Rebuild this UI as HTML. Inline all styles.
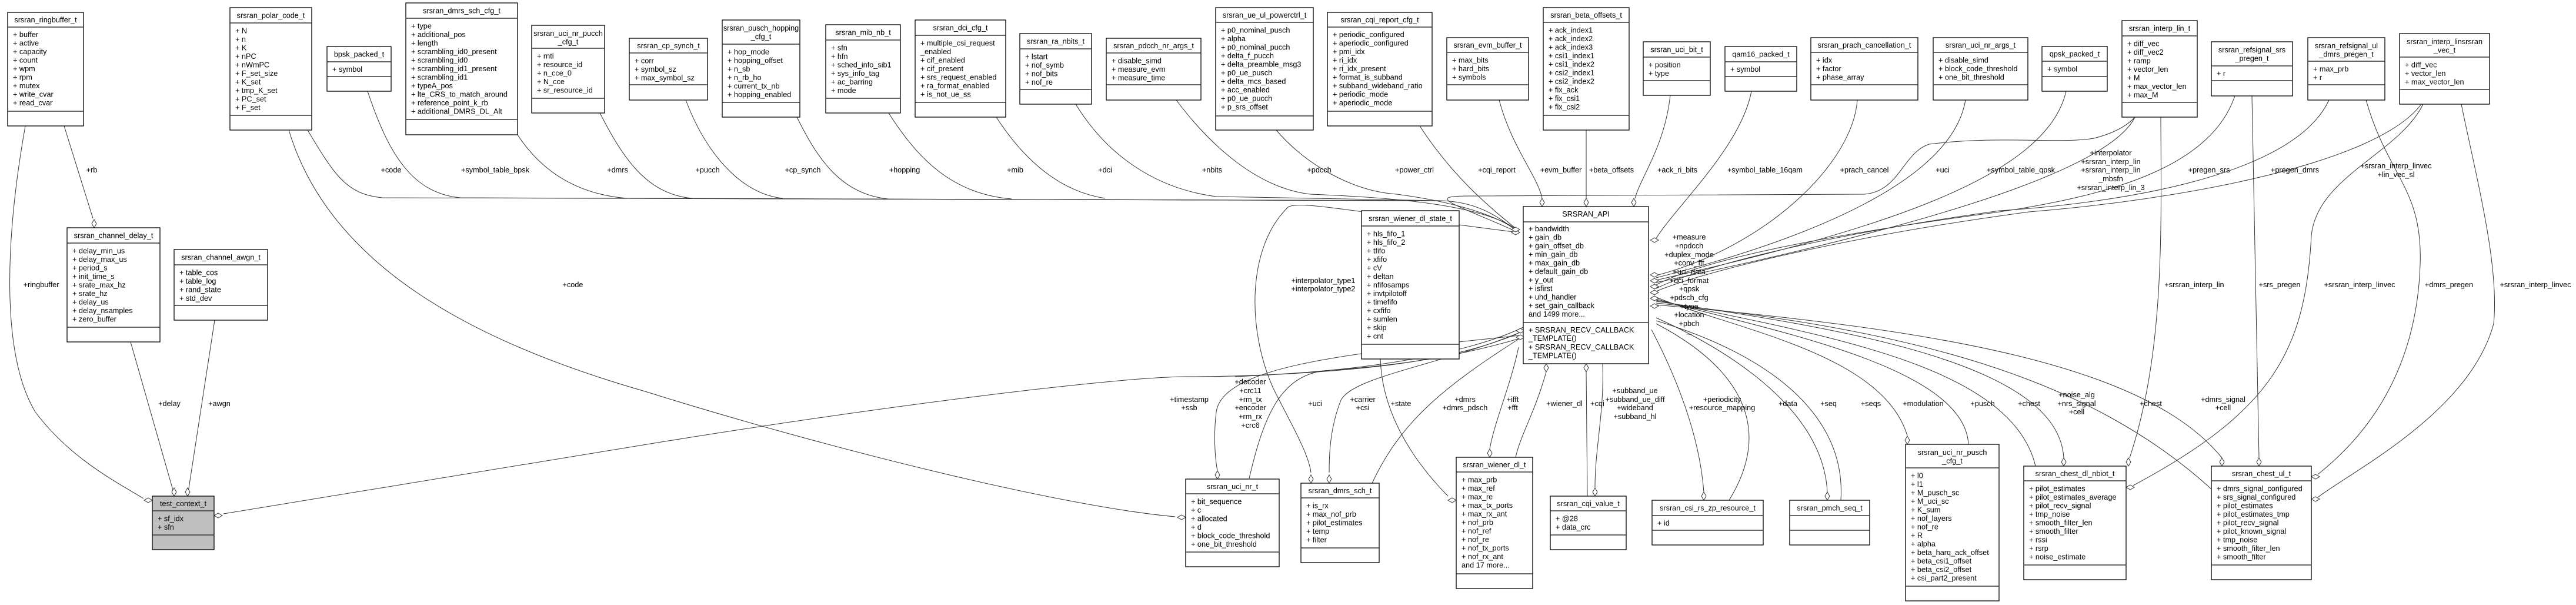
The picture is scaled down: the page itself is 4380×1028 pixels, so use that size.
<!DOCTYPE html>
<html><head><meta charset="utf-8"><style>
html,body{margin:0;padding:0;background:#fff}
svg{display:block}
text{font-family:"Liberation Sans",sans-serif;font-size:12.7px;fill:#000}
.b{fill:#fff;stroke:#000;stroke-width:1.3}
.g{fill:#bfbfbf;stroke:#000;stroke-width:1.3}
.s{stroke:#333;stroke-width:1.6}
.e{fill:none;stroke:#333;stroke-width:1}
.d{fill:#fff;stroke:#333;stroke-width:1}
.m{text-anchor:middle}
</style></head><body>
<svg width="4380" height="1028" viewBox="0 0 4380 1028" xmlns="http://www.w3.org/2000/svg">
<!-- EDGES -->
<g class="e">
<path d="M523,221 C570,300 590,330 650,336 L2450,341 C2520,343 2555,375 2582,395"/>
<path d="M625,155 C660,260 700,328 782,336 L2450,341"/>
<path d="M880,229 C920,290 980,330 1066,337 L2450,341"/>
<path d="M1020,192 C1060,270 1100,330 1177,337"/>
<path d="M1166,170 C1200,260 1260,330 1331,337"/>
<path d="M1355,199 C1390,270 1430,330 1510,338"/>
<path d="M1511,192 C1560,270 1620,330 1720,338"/>
<path d="M1694,199 C1740,270 1800,325 1879,337"/>
<path d="M1829,177 C1880,260 1960,320 2068,334 L2450,341"/>
<path d="M2000,170 C2060,250 2140,320 2228,330 C2350,335 2520,345 2582,392"/>
<path d="M2170,221 C2220,280 2300,325 2375,330 C2450,340 2540,360 2582,394"/>
<path d="M2414,214 C2470,300 2530,350 2582,392"/>
<path d="M2549,170 C2570,250 2615,300 2622,337"/>
<path d="M2697,221 L2697,337"/>
<path d="M2840,162 C2830,250 2790,300 2780,337"/>
<path d="M2978,155 C2960,250 2850,350 2816,405"/>
<path d="M2582,395 C2470,345 2420,333 2500,333 L3170,330 C3230,325 3235,260 3280,245 C3400,230 3500,245 3560,235 C3600,225 3620,210 3630,199"/>
<path d="M3158,170 C3150,280 3000,420 2816,468"/>
<path d="M3342,170 C3320,300 3100,400 2816,472"/>
<path d="M3513,155 C3480,300 3200,390 2816,476"/>
<path d="M3630,199 C3580,300 3200,400 2816,480"/>
<path d="M3800,163 C3760,280 3600,330 3400,360 C3100,400 2900,440 2816,484"/>
<path d="M3960,170 C3900,300 3600,345 3400,358 C3100,400 2900,450 2816,490"/>
<path d="M4117,177 C4040,280 3700,340 3450,360 C3150,400 2900,460 2816,495"/>
<path d="M2816,505 C2950,560 3200,600 3243,740"/>
<path d="M2816,508 C3000,560 3340,620 3347,755"/>
<path d="M2816,510 C3100,570 3420,620 3461,792"/>
<path d="M2816,512 C3150,560 3500,620 3509,778"/>
<path d="M2816,515 C3250,560 3550,640 3760,831"/>
<path d="M2816,518 C3300,560 3650,620 3778,778"/>
<path d="M2816,540 C2950,600 3100,700 3107,836"/>
<path d="M2816,545 C3000,600 3140,700 3130,850"/>
<path d="M2808,560 C2850,640 2890,740 2897,836"/>
<path d="M2816,550 C2950,620 3020,720 2940,850"/>
<path d="M2725,618 C2728,700 2712,760 2712,828"/>
<path d="M2697,632 L2699,843"/>
<path d="M2629,632 C2610,700 2585,740 2577,777"/>
<path d="M2582,590 C2570,650 2540,720 2533,763"/>
<path d="M2582,395 C2300,360 2210,340 2190,352 C2120,420 2120,560 2165,660 C2195,720 2225,770 2229,803"/>
<path d="M2584,565 C2450,620 2300,640 2280,680 C2260,730 2260,780 2260,803"/>
<path d="M2333,821 C2380,720 2450,660 2584,575"/>
<path d="M2347,610 C2350,700 2400,780 2462,843"/>
<path d="M2100,640 C2300,630 2450,620 2578,568"/>
<path d="M2584,570 C2300,600 2080,620 2068,700 C2062,750 2068,790 2070,800"/>
<path d="M2124,813 C2150,700 2180,640 2250,630 C2400,620 2500,600 2584,575"/>
<path d="M380,873 L1100,755 C1500,690 1900,640 2020,640 C2300,640 2500,600 2590,556"/>
<path d="M491,221 C560,450 800,580 1100,666 C1400,760 1800,860 1998,878"/>
<path d="M43,214 C10,400 0,600 60,700 C120,780 200,820 244,847"/>
<path d="M109,214 L158,371"/>
<path d="M222,581 L295,836"/>
<path d="M365,544 L320,836"/>
<path d="M3674,199 C3675,400 3680,600 3621,778"/>
<path d="M3829,163 L3841,778"/>
<path d="M4120,177 C4080,260 3940,300 3930,400 C3920,600 3860,700 3627,825"/>
<path d="M4023,170 C4060,300 4120,320 4115,450 C4110,600 4050,720 3941,806"/>
<path d="M4185,177 C4210,300 4250,450 4240,550 C4200,700 4000,800 3941,845"/>
</g>
<!-- DIAMONDS -->
<g class="d">
<path d="M2622,351 l-4,-7 l4,-7 l4,7z"/>
<path d="M2697,351 l-4,-7 l4,-7 l4,7z"/>
<path d="M2778,351 l-4,-7 l4,-7 l4,7z"/>
<path d="M2584,395 l-7,-4 l-7,4 l7,4z"/>
<path d="M2584,390 l-7,-4 l-7,4 l7,4z"/>
<path d="M2806,408 l7,-4 l7,4 l-7,4z"/>
<path d="M2806,467 l7,-4 l7,4 l-7,4z"/>
<path d="M2806,477 l7,-4 l7,4 l-7,4z"/>
<path d="M2806,487 l7,-4 l7,4 l-7,4z"/>
<path d="M2806,497 l7,-4 l7,4 l-7,4z"/>
<path d="M2806,507 l7,-4 l7,4 l-7,4z"/>
<path d="M2806,520 l7,-4 l7,4 l-7,4z"/>
<path d="M2592,562 l-7,-4 l-7,4 l7,4z"/>
<path d="M2592,573 l-7,-4 l-7,4 l7,4z"/>
<path d="M2629,618 l-4,7 l4,7 l4,-7z"/>
<path d="M2697,618 l-4,7 l4,7 l4,-7z"/>
<path d="M160,387 l-4,-7 l4,-7 l4,7z"/>
<path d="M296,843 l-4,-7 l4,-7 l4,7z"/>
<path d="M319,843 l-4,-7 l4,-7 l4,7z"/>
<path d="M259,850 l-7,-4 l-7,4 l7,4z"/>
<path d="M364,876 l7,-4 l7,4 l-7,4z"/>
<path d="M2016,879 l-7,-4 l-7,4 l7,4z"/>
<path d="M2070,814 l-4,-7 l4,-7 l4,7z"/>
<path d="M2229,821 l-4,-7 l4,-7 l4,7z"/>
<path d="M2260,821 l-4,-7 l4,-7 l4,7z"/>
<path d="M2476,850 l-7,-4 l-7,4 l7,4z"/>
<path d="M2533,777 l-4,-7 l4,-7 l4,7z"/>
<path d="M2712,843 l-4,-7 l4,-7 l4,7z"/>
<path d="M2897,850 l-4,-7 l4,-7 l4,7z"/>
<path d="M3107,850 l-4,-7 l4,-7 l4,7z"/>
<path d="M3243,755 l-4,-7 l4,-7 l4,7z"/>
<path d="M3509,792 l-4,-7 l4,-7 l4,7z"/>
<path d="M3778,792 l-4,-7 l4,-7 l4,7z"/>
<path d="M3841,792 l-4,-7 l4,-7 l4,7z"/>
<path d="M3615,785 l4,-7 l4,7 l-4,7z"/>
<path d="M3615,828 l7,-4 l7,4 l-7,4z"/>
<path d="M3930,810 l7,-4 l7,4 l-7,4z"/>
<path d="M3930,848 l7,-4 l7,4 l-7,4z"/>
</g>
<!-- EDGE LABELS -->
<g class="m">
<text x="156" y="293">+rb</text><text x="665" y="293">+code</text><text x="842" y="293">+symbol_table_bpsk</text>
<text x="1050" y="293">+dmrs</text><text x="1203" y="293">+pucch</text><text x="1365" y="293">+cp_synch</text>
<text x="1538" y="293">+hopping</text><text x="1726" y="293">+mib</text><text x="1879" y="293">+dci</text>
<text x="2061" y="293">+nbits</text><text x="2243" y="293">+pdcch</text><text x="2405" y="293">+power_ctrl</text>
<text x="2545" y="293">+cqi_report</text><text x="2654" y="293">+evm_buffer</text><text x="2740" y="293">+beta_offsets</text>
<text x="2852" y="293">+ack_ri_bits</text><text x="3001" y="293">+symbol_table_16qam</text><text x="3170" y="293">+prach_cancel</text>
<text x="3303" y="293">+uci</text><text x="3436" y="293">+symbol_table_qpsk</text>
<text x="3589" y="264">+interpolator</text><text x="3589" y="279">+srsran_interp_lin</text><text x="3589" y="293">+srsran_interp_lin</text><text x="3589" y="308">_mbsfn</text><text x="3589" y="323">+srsran_interp_lin_3</text>
<text x="3756" y="293">+pregen_srs</text><text x="3902" y="293">+pregen_dmrs</text>
<text x="4074" y="286">+srsran_interp_linvec</text><text x="4074" y="301">+lin_vec_sl</text>
<text x="70" y="488">+ringbuffer</text><text x="974" y="488">+code</text>
<text x="2250" y="481">+interpolator_type1</text><text x="2250" y="495">+interpolator_type2</text>
<text x="3731" y="488">+srsran_interp_lin</text><text x="3876" y="488">+srs_pregen</text><text x="4012" y="488">+srsran_interp_linvec</text>
<text x="4164" y="488">+dmrs_pregen</text><text x="4311" y="488">+srsran_interp_linvec</text>
<text x="2872" y="407">+measure</text><text x="2872" y="422">+npdcch</text><text x="2872" y="437">+duplex_mode</text>
<text x="2872" y="451">+conv_fft</text><text x="2872" y="466">+uci_data</text><text x="2872" y="481">+dci_format</text>
<text x="2872" y="495">+qpsk</text><text x="2872" y="510">+pdsch_cfg</text><text x="2872" y="525">+type</text>
<text x="2872" y="539">+location</text><text x="2872" y="554">+pbch</text><text x="2872" y="569">...</text>
<text x="288" y="690">+delay</text><text x="373" y="690">+awgn</text>
<text x="2022" y="683">+timestamp</text><text x="2022" y="697">+ssb</text>
<text x="2126" y="653">+decoder</text><text x="2126" y="668">+crc11</text><text x="2126" y="683">+rm_tx</text><text x="2126" y="697">+encoder</text><text x="2126" y="712">+rm_rx</text><text x="2126" y="727">+crc6</text>
<text x="2236" y="690">+uci</text><text x="2317" y="683">+carrier</text><text x="2317" y="697">+csi</text>
<text x="2382" y="690">+state</text><text x="2491" y="683">+dmrs</text><text x="2491" y="697">+dmrs_pdsch</text>
<text x="2572" y="683">+ifft</text><text x="2572" y="697">+fft</text><text x="2660" y="690">+wiener_dl</text><text x="2716" y="690">+cqi</text>
<text x="2780" y="668">+subband_ue</text><text x="2780" y="683">+subband_ue_diff</text><text x="2780" y="697">+wideband</text><text x="2780" y="712">+subband_hl</text>
<text x="2928" y="683">+periodicity</text><text x="2928" y="697">+resource_mapping</text>
<text x="3040" y="690">+data</text><text x="3109" y="690">+seq</text><text x="3181" y="690">+seqs</text><text x="3270" y="690">+modulation</text>
<text x="3371" y="690">+pusch</text><text x="3450" y="690">+chest</text>
<text x="3531" y="675">+noise_alg</text><text x="3531" y="690">+nrs_signal</text><text x="3531" y="704">+cell</text>
<text x="3657" y="690">+chest</text><text x="3780" y="683">+dmrs_signal</text><text x="3780" y="697">+cell</text>
</g>
<!-- NODES -->
<g>
<rect class="b" x="13" y="21" width="129" height="193"/><line class="s" x1="13" y1="46" x2="142" y2="46"/><line class="s" x1="13" y1="189" x2="142" y2="189"/>
<text class="m" x="77.5" y="38">srsran_ringbuffer_t</text>
<text x="22" y="63">+ buffer</text><text x="22" y="77.5">+ active</text><text x="22" y="92">+ capacity</text><text x="22" y="106.5">+ count</text><text x="22" y="121">+ wpm</text><text x="22" y="135.5">+ rpm</text><text x="22" y="150">+ mutex</text><text x="22" y="164.5">+ write_cvar</text><text x="22" y="179">+ read_cvar</text>

<rect class="b" x="391" y="13" width="139" height="208"/><line class="s" x1="391" y1="39" x2="530" y2="39"/><line class="s" x1="391" y1="196" x2="530" y2="196"/>
<text class="m" x="460.5" y="30.5">srsran_polar_code_t</text>
<text x="400" y="56.5">+ N</text><text x="400" y="71">+ n</text><text x="400" y="85.5">+ K</text><text x="400" y="100">+ nPC</text><text x="400" y="114.5">+ nWmPC</text><text x="400" y="129">+ F_set_size</text><text x="400" y="143.5">+ K_set</text><text x="400" y="158">+ tmp_K_set</text><text x="400" y="172.5">+ PC_set</text><text x="400" y="187">+ F_set</text>

<rect class="b" x="556" y="79" width="109" height="76"/><line class="s" x1="556" y1="105" x2="665" y2="105"/><line class="s" x1="556" y1="130" x2="665" y2="130"/>
<text class="m" x="610.5" y="96.5">bpsk_packed_t</text><text x="565" y="122">+ symbol</text>

<rect class="b" x="690" y="5" width="190" height="224"/><line class="s" x1="690" y1="31" x2="880" y2="31"/><line class="s" x1="690" y1="203" x2="880" y2="203"/>
<text class="m" x="785" y="22.5">srsran_dmrs_sch_cfg_t</text>
<text x="699" y="48.5">+ type</text><text x="699" y="63">+ additional_pos</text><text x="699" y="77.5">+ length</text><text x="699" y="92">+ scrambling_id0_present</text><text x="699" y="106.5">+ scrambling_id0</text><text x="699" y="121">+ scrambling_id1_present</text><text x="699" y="135.5">+ scrambling_id1</text><text x="699" y="150">+ typeA_pos</text><text x="699" y="164.5">+ lte_CRS_to_match_around</text><text x="699" y="179">+ reference_point_k_rb</text><text x="699" y="193.5">+ additional_DMRS_DL_Alt</text>

<rect class="b" x="904" y="43" width="124" height="149"/><line class="s" x1="904" y1="82" x2="1028" y2="82"/><line class="s" x1="904" y1="167" x2="1028" y2="167"/>
<text class="m" x="966" y="61">srsran_uci_nr_pucch</text><text class="m" x="966" y="75.5">_cfg_t</text>
<text x="913" y="99.5">+ rnti</text><text x="913" y="114">+ resource_id</text><text x="913" y="128.5">+ n_cce_0</text><text x="913" y="143">+ N_cce</text><text x="913" y="157.5">+ sr_resource_id</text>

<rect class="b" x="1070" y="65" width="133" height="105"/><line class="s" x1="1070" y1="90" x2="1203" y2="90"/><line class="s" x1="1070" y1="144" x2="1203" y2="144"/>
<text class="m" x="1136.5" y="82">srsran_cp_synch_t</text>
<text x="1079" y="107.5">+ corr</text><text x="1079" y="122">+ symbol_sz</text><text x="1079" y="136.5">+ max_symbol_sz</text>

<rect class="b" x="1228" y="34" width="132" height="165"/><line class="s" x1="1228" y1="75" x2="1360" y2="75"/><line class="s" x1="1228" y1="174" x2="1360" y2="174"/>
<text class="m" x="1294" y="52">srsran_pusch_hopping</text><text class="m" x="1294" y="66.5">_cfg_t</text>
<text x="1237" y="92.5">+ hop_mode</text><text x="1237" y="107">+ hopping_offset</text><text x="1237" y="121.5">+ n_sb</text><text x="1237" y="136">+ n_rb_ho</text><text x="1237" y="150.5">+ current_tx_nb</text><text x="1237" y="165">+ hopping_enabled</text>

<rect class="b" x="1404" y="42" width="127" height="150"/><line class="s" x1="1404" y1="68" x2="1531" y2="68"/><line class="s" x1="1404" y1="167" x2="1531" y2="167"/>
<text class="m" x="1467.5" y="59.5">srsran_mib_nb_t</text>
<text x="1413" y="85.5">+ sfn</text><text x="1413" y="100">+ hfn</text><text x="1413" y="114.5">+ sched_info_sib1</text><text x="1413" y="129">+ sys_info_tag</text><text x="1413" y="143.5">+ ac_barring</text><text x="1413" y="158">+ mode</text>

<rect class="b" x="1556" y="34" width="154" height="165"/><line class="s" x1="1556" y1="60" x2="1710" y2="60"/><line class="s" x1="1556" y1="174" x2="1710" y2="174"/>
<text class="m" x="1633" y="51.5">srsran_dci_cfg_t</text>
<text x="1565" y="77.5">+ multiple_csi_request</text><text x="1565" y="92">_enabled</text><text x="1565" y="106.5">+ cif_enabled</text><text x="1565" y="121">+ cif_present</text><text x="1565" y="135.5">+ srs_request_enabled</text><text x="1565" y="150">+ ra_format_enabled</text><text x="1565" y="164.5">+ is_not_ue_ss</text>

<rect class="b" x="1734" y="57" width="122" height="120"/><line class="s" x1="1734" y1="83" x2="1856" y2="83"/><line class="s" x1="1734" y1="152" x2="1856" y2="152"/>
<text class="m" x="1795" y="74.5">srsran_ra_nbits_t</text>
<text x="1743" y="100.5">+ lstart</text><text x="1743" y="115">+ nof_symb</text><text x="1743" y="129.5">+ nof_bits</text><text x="1743" y="144">+ nof_re</text>

<rect class="b" x="1881" y="65" width="161" height="105"/><line class="s" x1="1881" y1="90" x2="2042" y2="90"/><line class="s" x1="1881" y1="144" x2="2042" y2="144"/>
<text class="m" x="1961.5" y="82">srsran_pdcch_nr_args_t</text>
<text x="1890" y="107.5">+ disable_simd</text><text x="1890" y="122">+ measure_evm</text><text x="1890" y="136.5">+ measure_time</text>

<rect class="b" x="2067" y="13" width="166" height="208"/><line class="s" x1="2067" y1="38" x2="2233" y2="38"/><line class="s" x1="2067" y1="197" x2="2233" y2="197"/>
<text class="m" x="2150" y="30">srsran_ue_ul_powerctrl_t</text>
<text x="2076" y="55.5">+ p0_nominal_pusch</text><text x="2076" y="70">+ alpha</text><text x="2076" y="84.5">+ p0_nominal_pucch</text><text x="2076" y="99">+ delta_f_pucch</text><text x="2076" y="113.5">+ delta_preamble_msg3</text><text x="2076" y="128">+ p0_ue_pusch</text><text x="2076" y="142.5">+ delta_mcs_based</text><text x="2076" y="157">+ acc_enabled</text><text x="2076" y="171.5">+ p0_ue_pucch</text><text x="2076" y="186">+ p_srs_offset</text>

<rect class="b" x="2257" y="21" width="178" height="193"/><line class="s" x1="2257" y1="46" x2="2435" y2="46"/><line class="s" x1="2257" y1="189" x2="2435" y2="189"/>
<text class="m" x="2346" y="38">srsran_cqi_report_cfg_t</text>
<text x="2266" y="63">+ periodic_configured</text><text x="2266" y="77.5">+ aperiodic_configured</text><text x="2266" y="92">+ pmi_idx</text><text x="2266" y="106.5">+ ri_idx</text><text x="2266" y="121">+ ri_idx_present</text><text x="2266" y="135.5">+ format_is_subband</text><text x="2266" y="150">+ subband_wideband_ratio</text><text x="2266" y="164.5">+ periodic_mode</text><text x="2266" y="179">+ aperiodic_mode</text>

<rect class="b" x="2460" y="64" width="139" height="106"/><line class="s" x1="2460" y1="89" x2="2599" y2="89"/><line class="s" x1="2460" y1="144" x2="2599" y2="144"/>
<text class="m" x="2529.5" y="81">srsran_evm_buffer_t</text>
<text x="2469" y="106.5">+ max_bits</text><text x="2469" y="121">+ hard_bits</text><text x="2469" y="135.5">+ symbols</text>

<rect class="b" x="2624" y="13" width="146" height="208"/><line class="s" x1="2624" y1="38" x2="2770" y2="38"/><line class="s" x1="2624" y1="196" x2="2770" y2="196"/>
<text class="m" x="2697" y="30">srsran_beta_offsets_t</text>
<text x="2633" y="55.5">+ ack_index1</text><text x="2633" y="70">+ ack_index2</text><text x="2633" y="84.5">+ ack_index3</text><text x="2633" y="99">+ csi1_index1</text><text x="2633" y="113.5">+ csi1_index2</text><text x="2633" y="128">+ csi2_index1</text><text x="2633" y="142.5">+ csi2_index2</text><text x="2633" y="157">+ fix_ack</text><text x="2633" y="171.5">+ fix_csi1</text><text x="2633" y="186">+ fix_csi2</text>

<rect class="b" x="2794" y="71" width="114" height="91"/><line class="s" x1="2794" y1="97" x2="2908" y2="97"/><line class="s" x1="2794" y1="137" x2="2908" y2="137"/>
<text class="m" x="2851" y="88.5">srsran_uci_bit_t</text>
<text x="2803" y="114.5">+ position</text><text x="2803" y="129">+ type</text>

<rect class="b" x="2933" y="79" width="122" height="76"/><line class="s" x1="2933" y1="105" x2="3055" y2="105"/><line class="s" x1="2933" y1="130" x2="3055" y2="130"/>
<text class="m" x="2994" y="96.5">qam16_packed_t</text><text x="2942" y="122">+ symbol</text>

<rect class="b" x="3079" y="64" width="182" height="106"/><line class="s" x1="3079" y1="89" x2="3261" y2="89"/><line class="s" x1="3079" y1="144" x2="3261" y2="144"/>
<text class="m" x="3170" y="81">srsran_prach_cancellation_t</text>
<text x="3088" y="106.5">+ idx</text><text x="3088" y="121">+ factor</text><text x="3088" y="135.5">+ phase_array</text>

<rect class="b" x="3287" y="64" width="161" height="106"/><line class="s" x1="3287" y1="89" x2="3448" y2="89"/><line class="s" x1="3287" y1="144" x2="3448" y2="144"/>
<text class="m" x="3367.5" y="81">srsran_uci_nr_args_t</text>
<text x="3296" y="106.5">+ disable_simd</text><text x="3296" y="121">+ block_code_threshold</text><text x="3296" y="135.5">+ one_bit_threshold</text>

<rect class="b" x="3472" y="79" width="111" height="76"/><line class="s" x1="3472" y1="104" x2="3583" y2="104"/><line class="s" x1="3472" y1="130" x2="3583" y2="130"/>
<text class="m" x="3527.5" y="96">qpsk_packed_t</text><text x="3481" y="121.5">+ symbol</text>

<rect class="b" x="3608" y="35" width="128" height="164"/><line class="s" x1="3608" y1="61" x2="3736" y2="61"/><line class="s" x1="3608" y1="174" x2="3736" y2="174"/>
<text class="m" x="3672" y="52.5">srsran_interp_lin_t</text>
<text x="3617" y="78.5">+ diff_vec</text><text x="3617" y="93">+ diff_vec2</text><text x="3617" y="107.5">+ ramp</text><text x="3617" y="122">+ vector_len</text><text x="3617" y="136.5">+ M</text><text x="3617" y="151">+ max_vector_len</text><text x="3617" y="165.5">+ max_M</text>

<rect class="b" x="3760" y="71" width="138" height="92"/><line class="s" x1="3760" y1="112" x2="3898" y2="112"/><line class="s" x1="3760" y1="137" x2="3898" y2="137"/>
<text class="m" x="3829" y="89">srsran_refsignal_srs</text><text class="m" x="3829" y="103.5">_pregen_t</text><text x="3769" y="129">+ r</text>

<rect class="b" x="3924" y="64" width="131" height="106"/><line class="s" x1="3924" y1="104" x2="4055" y2="104"/><line class="s" x1="3924" y1="144" x2="4055" y2="144"/>
<text class="m" x="3989.5" y="82">srsran_refsignal_ul</text><text class="m" x="3989.5" y="96.5">_dmrs_pregen_t</text>
<text x="3933" y="121.5">+ max_prb</text><text x="3933" y="136">+ r</text>

<rect class="b" x="4080" y="57" width="153" height="120"/><line class="s" x1="4080" y1="97" x2="4233" y2="97"/><line class="s" x1="4080" y1="152" x2="4233" y2="152"/>
<text class="m" x="4156.5" y="75">srsran_interp_linsrsran</text><text class="m" x="4156.5" y="89.5">_vec_t</text>
<text x="4089" y="114.5">+ diff_vec</text><text x="4089" y="129">+ vector_len</text><text x="4089" y="143.5">+ max_vector_len</text>

<rect class="b" x="114" y="387" width="158" height="194"/><line class="s" x1="114" y1="413" x2="272" y2="413"/><line class="s" x1="114" y1="556" x2="272" y2="556"/>
<text class="m" x="193" y="404.5">srsran_channel_delay_t</text>
<text x="123" y="430.5">+ delay_min_us</text><text x="123" y="445">+ delay_max_us</text><text x="123" y="459.5">+ period_s</text><text x="123" y="474">+ init_time_s</text><text x="123" y="488.5">+ srate_max_hz</text><text x="123" y="503">+ srate_hz</text><text x="123" y="517.5">+ delay_us</text><text x="123" y="532">+ delay_nsamples</text><text x="123" y="546.5">+ zero_buffer</text>

<rect class="b" x="296" y="424" width="159" height="120"/><line class="s" x1="296" y1="450" x2="455" y2="450"/><line class="s" x1="296" y1="519" x2="455" y2="519"/>
<text class="m" x="375.5" y="441.5">srsran_channel_awgn_t</text>
<text x="305" y="467.5">+ table_cos</text><text x="305" y="482">+ table_log</text><text x="305" y="496.5">+ rand_state</text><text x="305" y="511">+ std_dev</text>

<rect class="b" x="2590" y="351" width="213" height="267"/><line class="s" x1="2590" y1="377" x2="2803" y2="377"/><line class="s" x1="2590" y1="548" x2="2803" y2="548"/>
<text class="m" x="2696.5" y="368">SRSRAN_API</text>
<text x="2599" y="393">+ bandwidth</text><text x="2599" y="407.5">+ gain_db</text><text x="2599" y="422">+ gain_offset_db</text><text x="2599" y="436.5">+ min_gain_db</text><text x="2599" y="451">+ max_gain_db</text><text x="2599" y="465.5">+ default_gain_db</text><text x="2599" y="480">+ y_out</text><text x="2599" y="494.5">+ isfirst</text><text x="2599" y="509">+ uhd_handler</text><text x="2599" y="523.5">+ set_gain_callback</text><text x="2599" y="538">and 1499 more...</text>
<text x="2599" y="565">+ SRSRAN_RECV_CALLBACK</text><text x="2599" y="579">_TEMPLATE()</text><text x="2599" y="594">+ SRSRAN_RECV_CALLBACK</text><text x="2599" y="608.5">_TEMPLATE()</text>

<rect class="b" x="2315" y="358" width="166" height="252"/><line class="s" x1="2315" y1="384" x2="2481" y2="384"/><line class="s" x1="2315" y1="585" x2="2481" y2="585"/>
<text class="m" x="2398" y="375.5">srsran_wiener_dl_state_t</text>
<text x="2324" y="401.5">+ hls_fifo_1</text><text x="2324" y="416">+ hls_fifo_2</text><text x="2324" y="430.5">+ tfifo</text><text x="2324" y="445">+ xfifo</text><text x="2324" y="459.5">+ cV</text><text x="2324" y="474">+ deltan</text><text x="2324" y="488.5">+ nfifosamps</text><text x="2324" y="503">+ invtpilotoff</text><text x="2324" y="517.5">+ timefifo</text><text x="2324" y="532">+ cxfifo</text><text x="2324" y="546.5">+ sumlen</text><text x="2324" y="561">+ skip</text><text x="2324" y="575.5">+ cnt</text>

<rect class="g" x="259" y="843" width="105" height="91"/><line class="s" x1="259" y1="868" x2="364" y2="868"/><line class="s" x1="259" y1="909" x2="364" y2="909"/>
<text class="m" x="311.5" y="860">test_context_t</text>
<text x="268" y="885.5">+ sf_idx</text><text x="268" y="900">+ sfn</text>

<rect class="b" x="2016" y="814" width="159" height="149"/><line class="s" x1="2016" y1="839" x2="2175" y2="839"/><line class="s" x1="2016" y1="938" x2="2175" y2="938"/>
<text class="m" x="2095.5" y="831">srsran_uci_nr_t</text>
<text x="2025" y="856.5">+ bit_sequence</text><text x="2025" y="871">+ c</text><text x="2025" y="885.5">+ allocated</text><text x="2025" y="900">+ d</text><text x="2025" y="914.5">+ block_code_threshold</text><text x="2025" y="929">+ one_bit_threshold</text>

<rect class="b" x="2212" y="821" width="133" height="135"/><line class="s" x1="2212" y1="846" x2="2345" y2="846"/><line class="s" x1="2212" y1="931" x2="2345" y2="931"/>
<text class="m" x="2278.5" y="838">srsran_dmrs_sch_t</text>
<text x="2221" y="863.5">+ is_rx</text><text x="2221" y="878">+ max_nof_prb</text><text x="2221" y="892.5">+ pilot_estimates</text><text x="2221" y="907">+ temp</text><text x="2221" y="921.5">+ filter</text>

<rect class="b" x="2476" y="777" width="130" height="223"/><line class="s" x1="2476" y1="802" x2="2606" y2="802"/><line class="s" x1="2476" y1="975" x2="2606" y2="975"/>
<text class="m" x="2541" y="794">srsran_wiener_dl_t</text>
<text x="2485" y="819.5">+ max_prb</text><text x="2485" y="834">+ max_ref</text><text x="2485" y="848.5">+ max_re</text><text x="2485" y="863">+ max_tx_ports</text><text x="2485" y="877.5">+ max_rx_ant</text><text x="2485" y="892">+ nof_prb</text><text x="2485" y="906.5">+ nof_ref</text><text x="2485" y="921">+ nof_re</text><text x="2485" y="935.5">+ nof_tx_ports</text><text x="2485" y="950">+ nof_rx_ant</text><text x="2485" y="964.5">and 17 more...</text>

<rect class="b" x="2636" y="843" width="129" height="91"/><line class="s" x1="2636" y1="868" x2="2765" y2="868"/><line class="s" x1="2636" y1="909" x2="2765" y2="909"/>
<text class="m" x="2700.5" y="860">srsran_cqi_value_t</text>
<text x="2645" y="885.5">+ @28</text><text x="2645" y="900">+ data_crc</text>

<rect class="b" x="2809" y="850" width="189" height="76"/><line class="s" x1="2809" y1="876" x2="2998" y2="876"/><line class="s" x1="2809" y1="901" x2="2998" y2="901"/>
<text class="m" x="2903.5" y="867.5">srsran_csi_rs_zp_resource_t</text><text x="2818" y="893">+ id</text>

<rect class="b" x="3043" y="850" width="136" height="76"/><line class="s" x1="3043" y1="876" x2="3179" y2="876"/><line class="s" x1="3043" y1="901" x2="3179" y2="901"/>
<text class="m" x="3111" y="867.5">srsran_pmch_seq_t</text>

<rect class="b" x="3240" y="755" width="159" height="266"/><line class="s" x1="3240" y1="795" x2="3399" y2="795"/><line class="s" x1="3240" y1="996" x2="3399" y2="996"/>
<text class="m" x="3319.5" y="773">srsran_uci_nr_pusch</text><text class="m" x="3319.5" y="787.5">_cfg_t</text>
<text x="3249" y="812.5">+ l0</text><text x="3249" y="827">+ l1</text><text x="3249" y="841.5">+ M_pusch_sc</text><text x="3249" y="856">+ M_uci_sc</text><text x="3249" y="870.5">+ K_sum</text><text x="3249" y="885">+ nof_layers</text><text x="3249" y="899.5">+ nof_re</text><text x="3249" y="914">+ R</text><text x="3249" y="928.5">+ alpha</text><text x="3249" y="943">+ beta_harq_ack_offset</text><text x="3249" y="957.5">+ beta_csi1_offset</text><text x="3249" y="972">+ beta_csi2_offset</text><text x="3249" y="986.5">+ csi_part2_present</text>

<rect class="b" x="3441" y="792" width="174" height="193"/><line class="s" x1="3441" y1="817" x2="3615" y2="817"/><line class="s" x1="3441" y1="960" x2="3615" y2="960"/>
<text class="m" x="3528" y="809">srsran_chest_dl_nbiot_t</text>
<text x="3450" y="834.5">+ pilot_estimates</text><text x="3450" y="849">+ pilot_estimates_average</text><text x="3450" y="863.5">+ pilot_recv_signal</text><text x="3450" y="878">+ tmp_noise</text><text x="3450" y="892.5">+ smooth_filter_len</text><text x="3450" y="907">+ smooth_filter</text><text x="3450" y="921.5">+ rssi</text><text x="3450" y="936">+ rsrp</text><text x="3450" y="950.5">+ noise_estimate</text>

<rect class="b" x="3760" y="792" width="170" height="193"/><line class="s" x1="3760" y1="817" x2="3930" y2="817"/><line class="s" x1="3760" y1="960" x2="3930" y2="960"/>
<text class="m" x="3845" y="809">srsran_chest_ul_t</text>
<text x="3769" y="834.5">+ dmrs_signal_configured</text><text x="3769" y="849">+ srs_signal_configured</text><text x="3769" y="863.5">+ pilot_estimates</text><text x="3769" y="878">+ pilot_estimates_tmp</text><text x="3769" y="892.5">+ pilot_recv_signal</text><text x="3769" y="907">+ pilot_known_signal</text><text x="3769" y="921.5">+ tmp_noise</text><text x="3769" y="936">+ smooth_filter_len</text><text x="3769" y="950.5">+ smooth_filter</text>
</g>
</svg>
</body></html>
